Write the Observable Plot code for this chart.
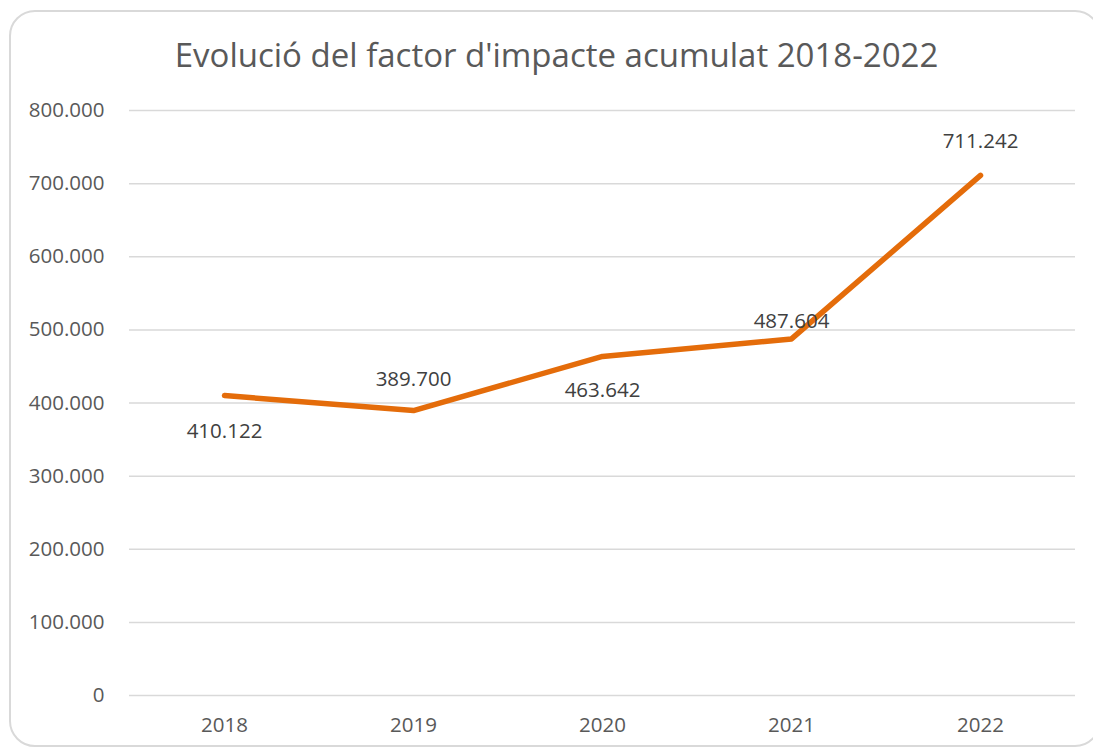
<!DOCTYPE html>
<html>
<head>
<meta charset="utf-8">
<script src="https://cdn.jsdelivr.net/npm/d3@7"></script>
<script src="https://cdn.jsdelivr.net/npm/@observablehq/plot@0.6"></script>
<style>
  html, body { margin: 0; padding: 0; background: #fff; }
  #wrap { position: relative; width: 1093px; height: 751px; overflow: hidden; font-family: "Open Sans", sans-serif; }
  #frame { position: absolute; left: 9px; top: 10px; width: 1092px; height: 737px; border: 2px solid #d9d9d9; border-radius: 26px; box-sizing: border-box; }
  #title { position: absolute; left: 0; width: 1113px; top: 32px; text-align: center; font-size: 33px; color: #595959; line-height: 46px; }
  #chart { position: absolute; left: 0; top: 90px; }
</style>
</head>
<body>
<div id="wrap">
  <div id="frame"></div>
  <div id="title">Evolució del factor d'impacte acumulat 2018-2022</div>
  <div id="chart"></div>
</div>
<script>
const years = ["2018", "2019", "2020", "2021", "2022"];
const values = [410122, 389700, 463642, 487604, 711242];
const yTicks = [0, 100000, 200000, 300000, 400000, 500000, 600000, 700000, 800000];

const data = years.map((y, i) => ({year: y, value: values[i], i}));
const fmt = v => v === 0 ? "0" : d3.format(",.0f")(v).replace(/,/g, ".");
const labelDy = [36, -31, 34, -18, -34];

const chart = Plot.plot({
  width: 1093,
  height: 661,
  marginLeft: 129,
  marginRight: 18,
  marginTop: 20,
  marginBottom: 56,
  style: {fontFamily: "Open Sans, sans-serif", fontSize: "20.5px", color: "#595959", background: "transparent"},
  x: {type: "point", domain: years, padding: 0.5, label: null},
  y: {domain: [0, 800000], label: null},
  marks: [
    Plot.gridY(yTicks, {stroke: "#d9d9d9", strokeOpacity: 1, strokeWidth: 1.5}),
    Plot.axisY(yTicks, {tickSize: 0, tickPadding: 25, tickFormat: fmt, fill: "#595959", fontSize: 20.5}),
    Plot.axisX(years, {tickSize: 0, tickPadding: 22, fill: "#595959", fontSize: 20.5}),
    Plot.line(data, {x: "year", y: "value", stroke: "#E46C0A", strokeWidth: 5.5, strokeLinejoin: "round", strokeLinecap: "round"}),
    ...data.map(d => Plot.text([d], {x: "year", y: "value", text: e => fmt(e.value), dy: labelDy[d.i], fill: "#404040", fontSize: 20.5}))
  ]
});
document.getElementById("chart").appendChild(chart);
</script>
</body>
</html>
